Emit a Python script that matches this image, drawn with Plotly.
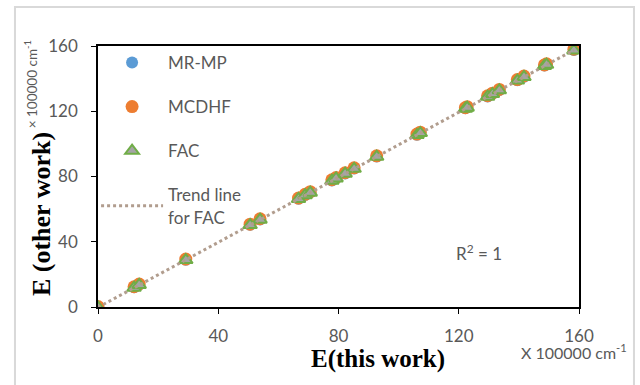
import numpy as np
import plotly.graph_objects as go

# E(this work), x 100000 cm^-1
e_this = [0, 12.0, 13.7, 29.2, 50.6, 53.9, 66.7, 68.9, 70.6, 77.8, 79.2, 82.2, 85.2,
          92.7, 106.1, 107.2, 122.2, 122.8, 129.6, 131.2, 133.5, 139.5, 141.7, 148.5,
          149.2, 158.3]
# E(other work) for each method
e_mrmp = [0, 12.1, 13.8, 29.0, 50.4, 53.7, 66.4, 68.7, 70.3, 77.6, 79.0, 81.9, 84.9,
          92.3, 105.6, 106.8, 121.8, 122.4, 129.1, 130.7, 133.0, 139.0, 141.2, 148.0,
          148.7, 157.6]
e_mcdhf = [0.3, 12.4, 14.1, 29.4, 50.8, 54.1, 66.8, 69.1, 70.7, 78.0, 79.4, 82.3, 85.3,
           92.7, 106.0, 107.2, 122.2, 122.8, 129.5, 131.1, 133.4, 139.4, 141.6, 148.4,
           149.1, 158.0]
e_fac = [-0.3, 11.8, 13.5, 28.8, 50.2, 53.5, 66.2, 68.5, 70.1, 77.4, 78.8, 81.7, 84.7,
         92.1, 105.4, 106.6, 121.6, 122.2, 128.9, 130.5, 132.8, 138.8, 141.0, 147.8,
         148.5, 157.3]
ticks = [0, 40, 80, 120, 160]

slope, icpt = np.polyfit(e_this, e_fac, 1)
trend_x = [min(e_this), max(e_this)]
trend_y = [slope * v + icpt for v in trend_x]

gray = "#595959"
fig = go.Figure()
fig.add_trace(go.Scatter(x=e_this, y=e_mrmp, mode="markers", name="MR-MP", legendgroup="a",
                         marker=dict(symbol="circle", size=12, color="#5b9bd5")))
fig.add_trace(go.Scatter(x=e_this, y=e_mcdhf, mode="markers", name="MCDHF", legendgroup="b",
                         marker=dict(symbol="circle", size=13, color="#ed7d31")))
fig.add_trace(go.Scatter(x=e_this, y=e_fac, mode="markers", name="FAC", legendgroup="c",
                         marker=dict(symbol="triangle-up", size=12, color="#a5a5a5",
                                     line=dict(color="#70ad47", width=2))))
fig.add_trace(go.Scatter(x=trend_x, y=trend_y, mode="lines", name="Trend line<br>for FAC",
                         legendgroup="d",
                         line=dict(color="#b19d8e", width=3, dash="dot")))

fig.update_layout(
    width=640, height=385,
    margin=dict(l=98, r=61, t=46, b=78),
    paper_bgcolor="white", plot_bgcolor="white",
    font=dict(family="Lato", size=17, color=gray),
    showlegend=True,
    legend=dict(x=-0.004, y=1.004, xanchor="left", yanchor="top", bgcolor="rgba(0,0,0,0)",
                font=dict(family="Lato", size=17, color=gray), tracegroupgap=19,
                traceorder="grouped", itemwidth=62),
    xaxis=dict(range=[0, 160], tickvals=ticks, showgrid=False, zeroline=False,
               showline=True, linecolor="black", linewidth=1.5, mirror=True,
               ticks="outside", ticklen=5, tickcolor="black", ticklabelstandoff=8),
    yaxis=dict(range=[0, 160], tickvals=ticks, showgrid=False, zeroline=False,
               showline=True, linecolor="black", linewidth=1.5, mirror=True,
               ticks="outside", ticklen=5, tickcolor="black", ticklabelstandoff=10),
    shapes=[dict(type="rect", xref="paper", yref="paper", x0=-0.1726, x1=1.1143,
                 y0=-0.4, y1=1.149, line=dict(color="#d9d9d9", width=2), layer="below")],
    annotations=[
        dict(text="<b>E(this work)</b>", xref="paper", yref="paper", x=0.582, y=-0.199,
             xanchor="center", yanchor="middle", showarrow=False,
             font=dict(family="Liberation Serif", size=25, color="black")),
        dict(text="X 100000 cm<sup>-1</sup>", xref="paper", yref="paper", x=0.99, y=-0.172,
             xanchor="center", yanchor="middle", showarrow=False,
             font=dict(family="Lato", size=16, color=gray)),
        dict(text="<b>E (other work)</b>", xref="paper", yref="paper", x=-0.1185, y=0.356,
             xanchor="center", yanchor="middle", showarrow=False, textangle=-90,
             font=dict(family="Liberation Serif", size=26, color="black")),
        dict(text="× 100000 cm<sup>-1</sup>", xref="paper", yref="paper", x=-0.139, y=0.854,
             xanchor="center", yanchor="middle", showarrow=False, textangle=-90,
             font=dict(family="Lato", size=13.5, color=gray)),
        dict(text="R<sup>2</sup> = 1", xref="paper", yref="paper", x=0.792, y=0.207,
             xanchor="center", yanchor="middle", showarrow=False,
             font=dict(family="Lato", size=17, color=gray)),
    ],
)

fig.write_html("out.html", config={"displayModeBar": False},
               post_script="document.body.style.margin='0px';")
